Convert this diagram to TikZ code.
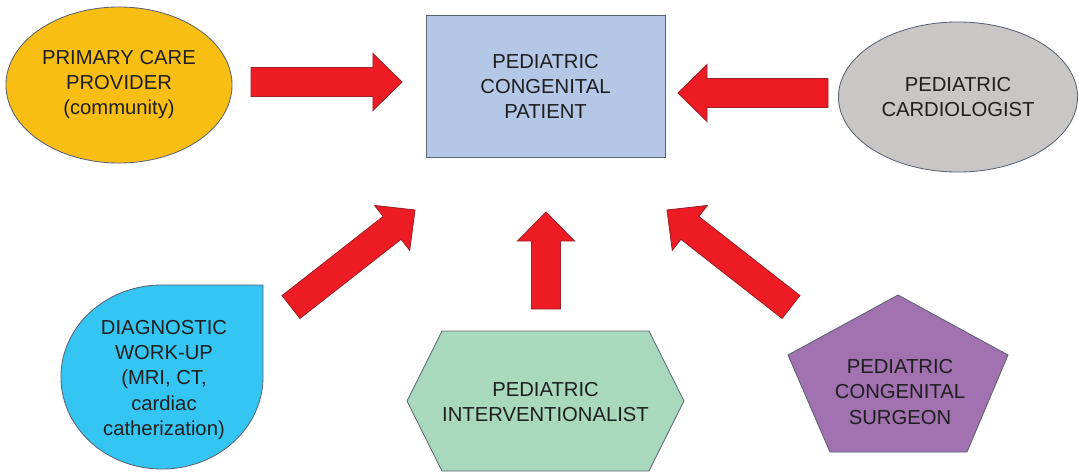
\documentclass[tikz,border=0pt]{standalone}
\usepackage{fontspec}
\setmainfont{Liberation Sans}
\usetikzlibrary{positioning, calc, shapes.geometric}

\definecolor{provyellow}{HTML}{F9BE14}
\definecolor{patblue}{HTML}{B4C7E7}
\definecolor{cardgray}{HTML}{C8C7C6}
\definecolor{diagcyan}{HTML}{35C5F2}
\definecolor{intgreen}{HTML}{A9D9BD}
\definecolor{surgpurple}{HTML}{A171B0}
\definecolor{arrowred}{HTML}{ED1C24}
\definecolor{arrowedge}{HTML}{9E1F27}
\definecolor{edgegray}{HTML}{5A6372}

\tikzset{
  shapebox/.style={draw=edgegray, line width=0.6pt},
  txt/.style={align=center, inner sep=0pt, text=black!88,
    font=\fontsize{14.4}{17.8}\selectfont},
  % fat block arrow, built between two points
  blockarrow/.style={draw=arrowedge, fill=arrowred, line width=0.6pt,
    to path={
      ($(\tikztostart)!0.3625cm!-90:(\tikztotarget)$)
      -- ($(\tikztotarget)!0.725cm!(\tikztostart)!0.3625cm!90:(\tikztostart)$)
      -- ($(\tikztotarget)!0.725cm!(\tikztostart)!0.7125cm!90:(\tikztostart)$)
      -- (\tikztotarget)
      -- ($(\tikztotarget)!0.725cm!(\tikztostart)!0.7125cm!-90:(\tikztostart)$)
      -- ($(\tikztotarget)!0.725cm!(\tikztostart)!0.3625cm!-90:(\tikztostart)$)
      -- ($(\tikztostart)!0.3625cm!90:(\tikztotarget)$)
      -- cycle}}
}

\begin{document}
\begin{tikzpicture}[x=0.025cm, y=-0.025cm]
    \useasboundingbox (0,0) rectangle (1079,473);

    % ===== Top row =====
    \node[shapebox, txt, ellipse, fill=provyellow, minimum width=5.65cm,
        minimum height=3.9cm] (prov) at (119,85)
        {PRIMARY CARE\\PROVIDER\\(community)};

    \node[shapebox, txt, rectangle, fill=patblue, minimum width=5.975cm,
        minimum height=3.55cm] (pat) at (545.5,86)
        {PEDIATRIC\\CONGENITAL\\PATIENT};

    \node[shapebox, txt, ellipse, fill=cardgray, minimum width=5.975cm,
        minimum height=3.75cm] (card) at (958,97)
        {PEDIATRIC\\CARDIOLOGIST};

    % ===== Bottom row =====
    % teardrop: square top-right corner
    \draw[shapebox, fill=diagcyan] (263,285) -- (263,377)
        arc[start angle=0, end angle=-270, x radius=2.525cm, y radius=2.3cm]
        -- cycle;
    \node[txt] (diag) at (164,380)
        {DIAGNOSTIC\\WORK-UP\\(MRI, CT,\\cardiac\\catherization)};

    % hexagon
    \draw[shapebox, fill=intgreen] (407,401) -- (442,331) -- (649,331)
        -- (684,401) -- (649,471) -- (442,471) -- cycle;
    \node[txt] (interv) at (545.5,402) {PEDIATRIC\\INTERVENTIONALIST};

    % pentagon
    \draw[shapebox, fill=surgpurple] (898,295) -- (1008,355) -- (967,452)
        -- (830,452) -- (788,355) -- cycle;
    \node[txt] (surg) at (900,392) {PEDIATRIC\\CONGENITAL\\SURGEON};

    % ===== Arrow ends =====
    \coordinate (prov-out) at (251,82);
    \coordinate (pat-w) at (402,82);
    \coordinate (card-out) at (828,93);
    \coordinate (pat-e) at (678,93);
    \coordinate (interv-out) at (546,309);
    \coordinate (pat-s) at (546,212);
    \coordinate (diag-out) at (291,307);
    \coordinate (pat-sw) at (415,210);
    \coordinate (surg-out) at (791,307);
    \coordinate (pat-se) at (667,210);

    % ===== Block arrows into the patient =====
    \draw[blockarrow] (prov-out) to (pat-w);
    \draw[blockarrow] (card-out) to (pat-e);
    \draw[blockarrow] (interv-out) to (pat-s);
    \draw[blockarrow] (diag-out) to (pat-sw);
    \draw[blockarrow] (surg-out) to (pat-se);

\end{tikzpicture}
\end{document}
